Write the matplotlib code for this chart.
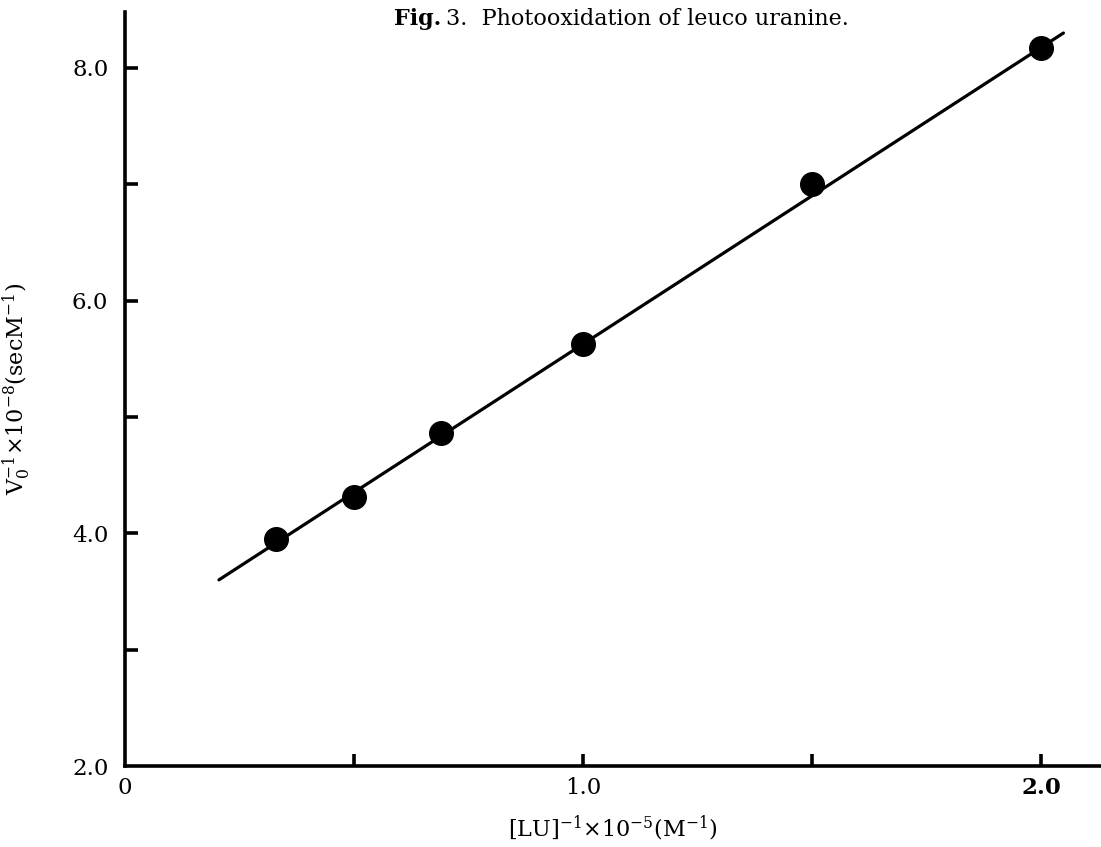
import matplotlib
matplotlib.use("Agg")
import matplotlib.pyplot as plt
import numpy as np

# data
inv_lu = [0.33, 0.50, 0.69, 1.00, 1.50, 2.00]
inv_v0 = [3.95, 4.31, 4.86, 5.63, 7.00, 8.17]

# fitted line drawn in the figure
fit_x = [0.205, 2.048]
fit_slope = 2.55
fit_intercept = 3.077

x_major = [0, 1.0, 2.0]
x_major_labels = ["0", "1.0", "2.0"]
x_minor = [0.5, 1.5]
y_major = [2.0, 4.0, 6.0, 8.0]
y_major_labels = ["2.0", "4.0", "6.0", "8.0"]
y_minor = [3.0, 5.0, 7.0]

plt.rcParams['font.family'] = ['DejaVu Serif']
plt.rcParams['mathtext.fontset'] = 'dejavuserif'

fig = plt.figure(figsize=(11.01, 8.47), dpi=100)
ax = fig.add_axes([125 / 1101, 1 - 766 / 847, 1 - 125 / 1101, (766 - 12) / 847])

lx = np.array(fit_x)
ax.plot(lx, fit_slope * lx + fit_intercept, color='black', lw=2.3,
        solid_capstyle='round', zorder=2)
ax.plot(inv_lu, inv_v0, 'o', color='black', ms=17, zorder=3)

ax.set_xlim(0, 2.13)
ax.set_ylim(2.0, 8.48)

for s in ['top', 'right']:
    ax.spines[s].set_visible(False)
for s in ['left', 'bottom']:
    ax.spines[s].set_linewidth(2.6)

ax.set_xticks(x_major)
ax.set_xticklabels(x_major_labels, fontsize=16.5)
ax.set_xticks(x_minor, minor=True)
ax.set_yticks(y_major)
ax.set_yticklabels(y_major_labels, fontsize=16.5)
ax.set_yticks(y_minor, minor=True)
ax.xaxis.get_ticklabels()[2].set_fontweight('bold')

ax.tick_params(which='both', direction='in', length=9, width=2.6, pad=8)
ax.tick_params(axis='y', which='both', pad=12)
ax.xaxis.get_major_ticks()[0].tick1line.set_visible(False)
ax.yaxis.get_major_ticks()[0].tick1line.set_visible(False)

ax.set_xlabel(r'[LU]$^{-1}$$\times$10$^{-5}$(M$^{-1}$)', fontsize=16, labelpad=10)
ax.set_ylabel(r'V$_0^{-1}$$\times$10$^{-8}$(secM$^{-1}$)', fontsize=16, labelpad=28)

fig.text(0.358, 0.978, 'Fig.', fontsize=16, fontweight='bold', va='center')
fig.text(0.405, 0.978, '3.  Photooxidation of leuco uranine.', fontsize=16, va='center')

fig.savefig('out.png', dpi=100)
